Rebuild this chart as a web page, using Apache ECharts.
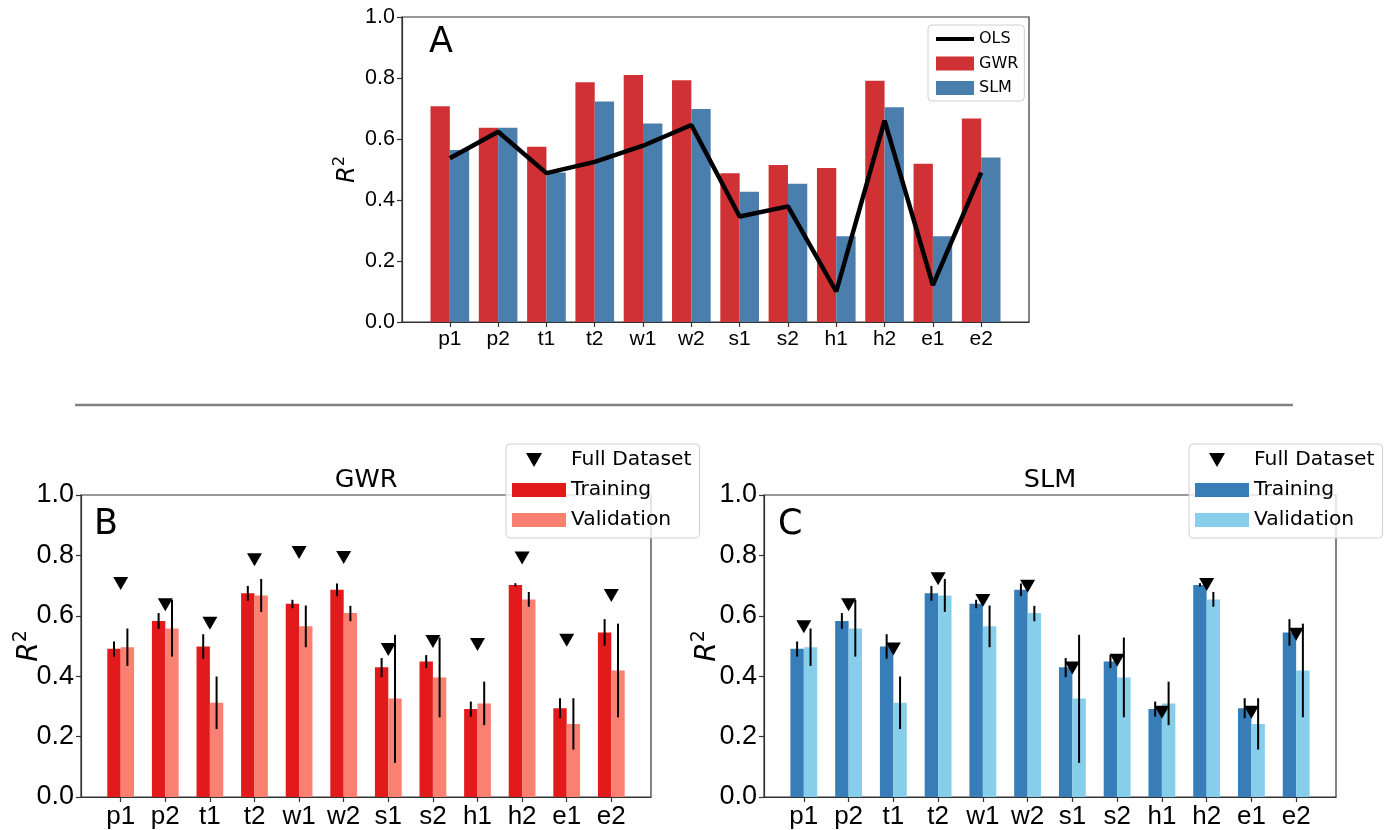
<!DOCTYPE html>
<html><head><meta charset="utf-8">
<script src="https://cdn.jsdelivr.net/npm/echarts@6/dist/echarts.min.js"></script>
<style>html,body{margin:0;padding:0;background:#fff}#c{width:1393px;height:830px}</style>
</head><body><div id="c"></div>
<script>
// ---------- data ----------
const categories = ['p1','p2','t1','t2','w1','w2','s1','s2','h1','h2','e1','e2'];
const yTicks = [0.0, 0.2, 0.4, 0.6, 0.8, 1.0];
// Panel A: full-dataset R^2
const gwrR2 = [0.707,0.637,0.575,0.786,0.810,0.793,0.488,0.515,0.505,0.791,0.519,0.667];
const slmR2 = [0.564,0.637,0.490,0.723,0.651,0.698,0.427,0.453,0.281,0.704,0.281,0.539];
const olsR2 = [0.537,0.624,0.488,0.525,0.578,0.646,0.346,0.379,0.100,0.660,0.121,0.490];
// Panels B and C: cross-validation results
const trainMean = [0.491,0.583,0.498,0.675,0.640,0.686,0.430,0.449,0.291,0.702,0.294,0.545];
const trainLo   = [0.465,0.557,0.458,0.650,0.625,0.665,0.397,0.427,0.266,0.697,0.261,0.501];
const trainHi   = [0.515,0.609,0.539,0.699,0.653,0.707,0.460,0.470,0.316,0.708,0.327,0.589];
const validMean = [0.496,0.558,0.312,0.667,0.565,0.609,0.326,0.396,0.310,0.654,0.242,0.419];
const validLo   = [0.434,0.465,0.225,0.613,0.496,0.582,0.113,0.264,0.238,0.630,0.157,0.264];
const validHi   = [0.558,0.653,0.399,0.722,0.634,0.633,0.537,0.528,0.382,0.679,0.327,0.574];

// ---------- styling ----------
const TICK_FONT = 'Liberation Sans';
const TEXT_FONT = 'DejaVu Sans';
const FRAME = '#333';
const idx = categories.map((c, i) => i);

const chart = echarts.init(document.getElementById('c'), null, {renderer: 'canvas'});

function xAxisFor(gridIndex, half, fontSize) {
  return {
    type: 'value', gridIndex: gridIndex,
    min: -(half + 0.59), max: categories.length - 1 + half + 0.59,
    axisLine: {show: true, onZero: false, lineStyle: {color: FRAME, width: 1.2}},
    axisTick: {show: true, customValues: idx, length: 5, lineStyle: {color: FRAME, width: 1.2}},
    axisLabel: {customValues: idx, formatter: v => categories[Math.round(v)] || '',
      fontSize: fontSize, color: '#000', fontFamily: TICK_FONT, margin: 7},
    splitLine: {show: false}
  };
}
function yAxisFor(gridIndex, fontSize, nameSize, nameGap) {
  return {
    type: 'value', gridIndex: gridIndex, min: yTicks[0], max: yTicks[yTicks.length-1], interval: 0.2,
    axisLine: {show: true, onZero: false, lineStyle: {color: FRAME, width: 1.2}},
    axisTick: {show: true, length: 5, lineStyle: {color: FRAME, width: 1.2}},
    axisLabel: {formatter: v => v.toFixed(1), fontSize: fontSize, color: '#000', fontFamily: TICK_FONT, margin: 7},
    splitLine: {show: false},
    name: '{i|R}{s|2}', nameLocation: 'middle', nameRotate: 90, nameGap: nameGap, nameMoveOverlap: false,
    nameTextStyle: {rich: {
      i: {fontStyle: 'italic', fontSize: nameSize, fontFamily: TEXT_FONT, color: '#000', lineHeight: nameSize * 1.3},
      s: {fontSize: nameSize * 0.68, fontFamily: TEXT_FONT, color: '#000', verticalAlign: 'top', lineHeight: nameSize * 1.3}
    }}
  };
}
function errRender(offset) {
  return function (params, api) {
    const x = api.value(0) + offset;
    const a = api.coord([x, api.value(1)]);
    const b = api.coord([x, api.value(2)]);
    return {type: 'line', shape: {x1: a[0], y1: a[1], x2: b[0], y2: b[1]},
      style: {stroke: '#000', lineWidth: 2}};
  };
}
const triPath = 'path://M0,0 L16,0 L8,14 Z';
const triLegend = 'path://M0,0 M54,14 M14,0 L30,0 L22,14 Z';
const lineLegend = 'path://M0,0 M38,14 M0,5 L38,5 L38,9 L0,9 Z';

function cvSeries(prefix, gridIdx, cTrain, cValid, full) {
  return [
    {name: prefix + ' Training', type: 'bar', xAxisIndex: gridIdx, yAxisIndex: gridIdx,
      data: categories.map((c, i) => [i, trainMean[i]]), barWidth: '30%', barGap: '0%',
      itemStyle: {color: cTrain}, z: 2},
    {name: prefix + ' Validation', type: 'bar', xAxisIndex: gridIdx, yAxisIndex: gridIdx,
      data: categories.map((c, i) => [i, validMean[i]]), barWidth: '30%', barGap: '0%',
      itemStyle: {color: cValid}, z: 2},
    {name: prefix + ' errT', type: 'custom', xAxisIndex: gridIdx, yAxisIndex: gridIdx,
      data: categories.map((c, i) => [i, trainLo[i], trainHi[i]]),
      encode: {x: 0, y: [1, 2]}, renderItem: errRender(-0.15), z: 3},
    {name: prefix + ' errV', type: 'custom', xAxisIndex: gridIdx, yAxisIndex: gridIdx,
      data: categories.map((c, i) => [i, validLo[i], validHi[i]]),
      encode: {x: 0, y: [1, 2]}, renderItem: errRender(0.15), z: 3},
    {name: prefix + ' Full Dataset', type: 'scatter', xAxisIndex: gridIdx, yAxisIndex: gridIdx,
      data: categories.map((c, i) => [i, full[i]]), symbol: triPath, symbolSize: [15, 13],
      itemStyle: {color: '#000', opacity: 1}, z: 4}
  ];
}
function cvLegend(prefix, left) {
  return {
    orient: 'vertical', left: left, top: 444, padding: [6, 8, 8, 6],
    itemWidth: 54, itemHeight: 14, itemGap: 10,
    backgroundColor: 'rgba(255,255,255,0.8)', borderColor: '#d0d0d0', borderWidth: 1, borderRadius: 4,
    textStyle: {fontSize: 20.3, fontFamily: TEXT_FONT, color: '#000', lineHeight: 20},
    formatter: n => n.replace(/^(GWR|SLM) /, ''),
    selectedMode: false, z: 20,
    data: [
      {name: prefix + ' Full Dataset', icon: triLegend},
      {name: prefix + ' Training', icon: 'rect'},
      {name: prefix + ' Validation', icon: 'rect'}
    ]
  };
}

const option = {
  animation: false,
  backgroundColor: '#fff',
  grid: [
    {left: 402, top: 17, width: 627, height: 305, show: true, borderColor: FRAME, borderWidth: 1.2, backgroundColor: 'transparent'},
    {left: 81, top: 495, width: 570, height: 306, show: true, borderColor: FRAME, borderWidth: 1.2, backgroundColor: 'transparent'},
    {left: 764, top: 495, width: 572, height: 306, show: true, borderColor: FRAME, borderWidth: 1.2, backgroundColor: 'transparent'}
  ],
  xAxis: [xAxisFor(0, 0.4, 21), xAxisFor(1, 0.3, 26), xAxisFor(2, 0.3, 26)],
  yAxis: [yAxisFor(0, 21.5, 24, 39), yAxisFor(1, 27, 28, 33), yAxisFor(2, 27, 28, 38)],
  legend: [
    {orient: 'vertical', left: 928, top: 25, padding: [6, 6, 5, 8],
      itemWidth: 38, itemHeight: 14, itemGap: 8.5,
      backgroundColor: 'rgba(255,255,255,0.8)', borderColor: '#d0d0d0', borderWidth: 1, borderRadius: 4,
      textStyle: {fontSize: 16, fontFamily: TEXT_FONT, color: '#000', lineHeight: 14},
      selectedMode: false, z: 20,
      data: [{name: 'OLS', icon: lineLegend}, {name: 'GWR', icon: 'rect'}, {name: 'SLM', icon: 'rect'}]},
    cvLegend('GWR', 506),
    cvLegend('SLM', 1189)
  ],
  graphic: [
    {type: 'line', shape: {x1: 75, y1: 405, x2: 1293, y2: 405}, style: {stroke: '#808080', lineWidth: 2.5}},
    {type: 'text', left: 429, top: 25, style: {text: 'A', fontSize: 35, fontFamily: TEXT_FONT, fill: '#000'}},
    {type: 'text', left: 94, top: 507, style: {text: 'B', fontSize: 35, fontFamily: TEXT_FONT, fill: '#000'}},
    {type: 'text', left: 778, top: 507, style: {text: 'C', fontSize: 35, fontFamily: TEXT_FONT, fill: '#000'}},
    {type: 'text', x: 366, y: 480, style: {text: 'GWR', fontSize: 25.5, fontFamily: TEXT_FONT, fill: '#000', textAlign: 'center', textVerticalAlign: 'middle'}},
    {type: 'text', x: 1050, y: 480, style: {text: 'SLM', fontSize: 25.5, fontFamily: TEXT_FONT, fill: '#000', textAlign: 'center', textVerticalAlign: 'middle'}}
  ],
  series: [
    {name: 'GWR', type: 'bar', xAxisIndex: 0, yAxisIndex: 0,
      data: categories.map((c, i) => [i, gwrR2[i]]), barWidth: '40%', barGap: '0%',
      itemStyle: {color: '#cf3135'}},
    {name: 'SLM', type: 'bar', xAxisIndex: 0, yAxisIndex: 0,
      data: categories.map((c, i) => [i, slmR2[i]]), barWidth: '40%', barGap: '0%',
      itemStyle: {color: '#4a7eac'}},
    {name: 'OLS', type: 'line', xAxisIndex: 0, yAxisIndex: 0,
      data: categories.map((c, i) => [i, olsR2[i]]), symbol: 'none',
      lineStyle: {color: '#000', width: 4.5}, itemStyle: {color: '#000'}, z: 5}
  ].concat(cvSeries('GWR', 1, '#e31a1c', '#fa8072', gwrR2))
   .concat(cvSeries('SLM', 2, '#377eb8', '#87ceeb', slmR2))
};
chart.setOption(option);
</script>
</body></html>
